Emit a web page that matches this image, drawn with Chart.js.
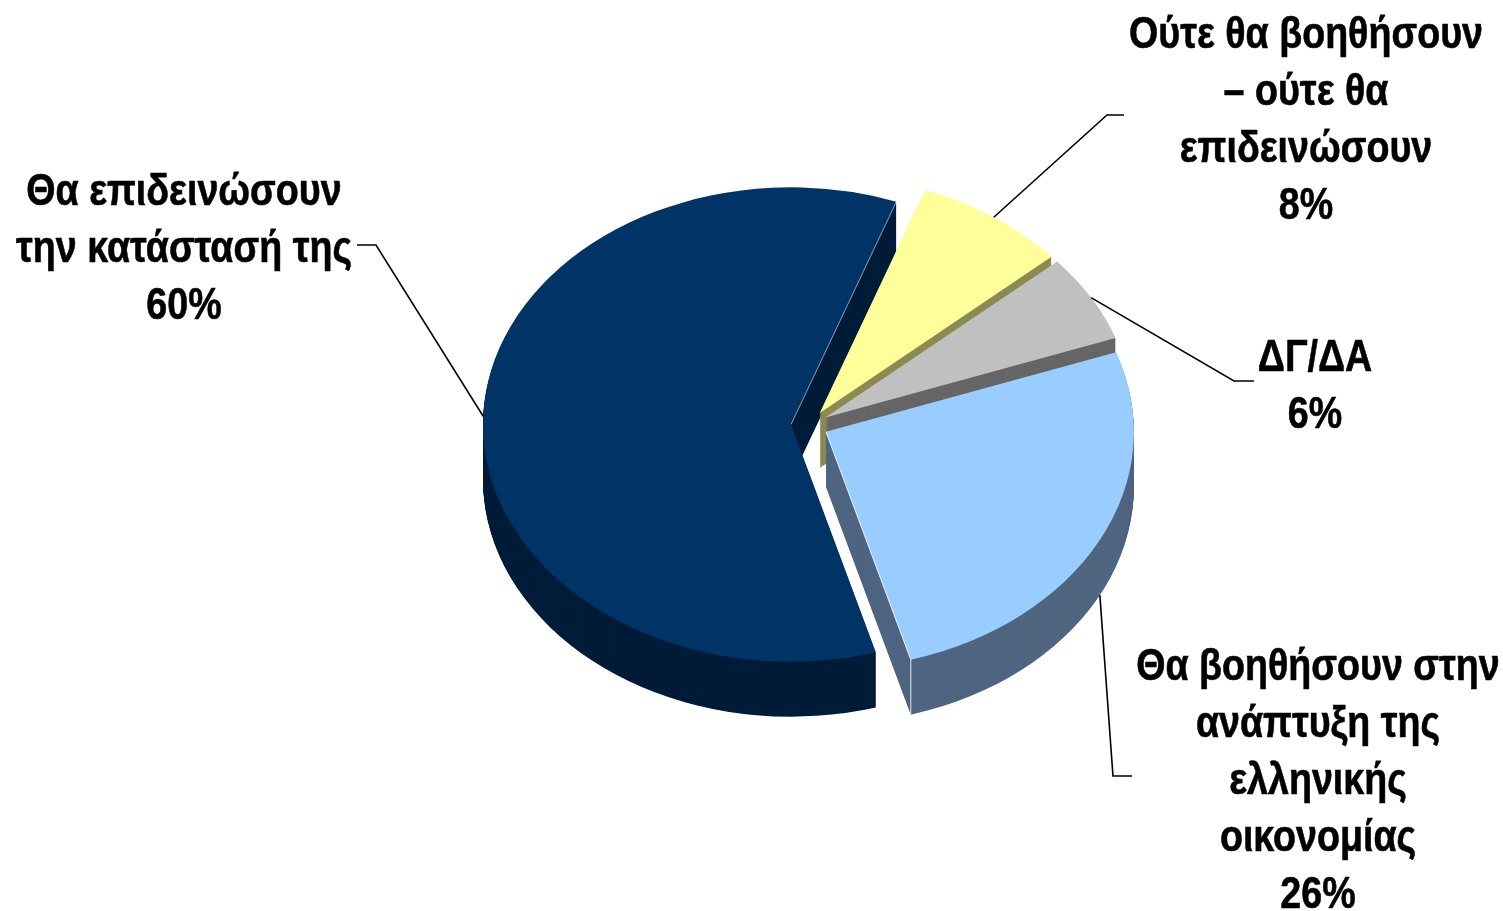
<!DOCTYPE html>
<html>
<head>
<meta charset="utf-8">
<style>
  html, body { margin: 0; padding: 0; background: #fff; overflow: hidden; }
  #box { position: absolute; left: 0; top: 0; width: 1503px; height: 911px; }
</style>
</head>
<body>
<div id="box"><canvas id="pie"></canvas></div>
<script src="https://cdn.jsdelivr.net/npm/chart.js@4/dist/chart.umd.min.js"></script>
<script>
const categories = ["Ούτε θα βοηθήσουν – ούτε θα επιδεινώσουν", "ΔΓ/ΔΑ", "Θα βοηθήσουν στην ανάπτυξη της ελληνικής οικονομίας", "Θα επιδεινώσουν την κατάστασή της"];
const values = [8, 6, 26, 60];
const labelLines = [
  ["Ούτε θα βοηθήσουν", "– ούτε θα", "επιδεινώσουν"],
  ["ΔΓ/ΔΑ"],
  ["Θα βοηθήσουν στην", "ανάπτυξη της", "ελληνικής", "οικονομίας"],
  ["Θα επιδεινώσουν", "την κατάστασή της"]
];
const topColors  = ["#FFFF99", "#C0C0C0", "#99CCFF", "#003366"];
const sideColors = ["#8A8A52", "#666666", "#4F6580", "#001C38"];

// pie look
const explode = [19, 19, 19, 18];
const squash = 0.77;
const depth = 55;
const centerY = 425;

// label layout: centre x, first baseline, then leader elbow and end
const labelX = [1306, 1315, 1318, 184];
const labelY = [48, 371, 680, 205];
const elbows = [[1107, 115, 1124], [1234, 381, 1254], [1113, 776, 1132], [376, 245, 357]];
const lineStep = 57;
const textFont = 'bold 44px "Liberation Sans", Arial, sans-serif';
const textScaleX = 0.855;

function slicePath(ctx, arc) {
  ctx.beginPath();
  ctx.moveTo(arc.x, arc.y);
  ctx.arc(arc.x, arc.y, arc.outerRadius, arc.startAngle, arc.endAngle);
  ctx.closePath();
}

const pie3d = {
  id: "pie3d",
  // explode the slices without the radius change that the offset option brings
  afterDatasetsUpdate(chart) {
    chart.getDatasetMeta(0).data.forEach((arc, i) => {
      const mid = (arc.startAngle + arc.endAngle) / 2;
      arc.x += Math.cos(mid) * explode[i];
      arc.y += Math.sin(mid) * explode[i];
    });
  },
  beforeDatasetsDraw(chart) {
    const ctx = chart.ctx;
    ctx.save();
    ctx.translate(0, centerY);
    ctx.scale(1, squash);
    ctx.translate(0, -centerY);
    // walls, one pixel layer at a time
    const arcs = chart.getDatasetMeta(0).data;
    [3, 0, 1, 2].forEach(i => {
      ctx.fillStyle = sideColors[i];
      for (let k = depth; k > 0; k--) {
        ctx.save();
        ctx.translate(0, k / squash);
        slicePath(ctx, arcs[i]);
        ctx.fill();
        ctx.restore();
      }
    });
  },
  afterDatasetsDraw(chart) {
    const ctx = chart.ctx;
    const arcs = chart.getDatasetMeta(0).data;
    ctx.restore();

    // thin light edges on the cut faces
    const rim = (arc, a) => [arc.x + Math.cos(a) * arc.outerRadius, centerY + (arc.y + Math.sin(a) * arc.outerRadius - centerY) * squash];
    const ay = arc => centerY + (arc.y - centerY) * squash;
    ctx.lineWidth = 1;
    ctx.strokeStyle = "rgba(255,255,255,0.85)";
    const blueEnd = rim(arcs[2], arcs[2].endAngle);
    ctx.beginPath();
    ctx.moveTo(arcs[2].x, ay(arcs[2]));
    ctx.lineTo(blueEnd[0], blueEnd[1]);
    ctx.lineTo(blueEnd[0], blueEnd[1] + depth);
    ctx.stroke();
    ctx.strokeStyle = "rgba(255,255,255,0.55)";
    const navyEnd = rim(arcs[3], arcs[3].endAngle);
    ctx.beginPath();
    ctx.moveTo(arcs[3].x, ay(arcs[3]));
    ctx.lineTo(navyEnd[0], navyEnd[1]);
    ctx.stroke();

    // leader lines start at the middle of each slice's rim
    ctx.strokeStyle = "#000";
    ctx.lineWidth = 1.6;
    arcs.forEach((arc, i) => {
      const mid = (arc.startAngle + arc.endAngle) / 2;
      const p = rim(arc, mid);
      const low = Math.sin(mid) > 0.2 ? depth : 0;
      ctx.beginPath();
      ctx.moveTo(p[0], p[1] + low);
      ctx.lineTo(elbows[i][0], elbows[i][1]);
      ctx.lineTo(elbows[i][2], elbows[i][1]);
      ctx.stroke();
    });

    // labels, with a hair of stroke to get the reference's weight
    ctx.fillStyle = "#000";
    ctx.strokeStyle = "#000";
    ctx.lineWidth = 0.6;
    ctx.font = textFont;
    ctx.textAlign = "center";
    ctx.textBaseline = "alphabetic";
    labelLines.forEach((lines, i) => {
      const all = lines.concat(values[i] + "%");
      all.forEach((line, n) => {
        ctx.save();
        ctx.translate(labelX[i], labelY[i] + n * lineStep);
        ctx.scale(textScaleX, 1);
        ctx.fillText(line, 0, 0);
        ctx.strokeText(line, 0, 0);
        ctx.restore();
      });
    });
  }
};

new Chart(document.getElementById("pie"), {
  type: "pie",
  data: {
    labels: categories,
    datasets: [{
      data: values,
      backgroundColor: topColors,
      borderWidth: 0
    }]
  },
  options: {
    responsive: true,
    maintainAspectRatio: false,
    animation: false,
    rotation: 20,
    layout: { padding: { left: 501, right: 386, top: 117, bottom: 178 } },
    plugins: {
      legend: { display: false },
      tooltip: { enabled: false }
    }
  },
  plugins: [pie3d]
});
</script>
</body>
</html>
